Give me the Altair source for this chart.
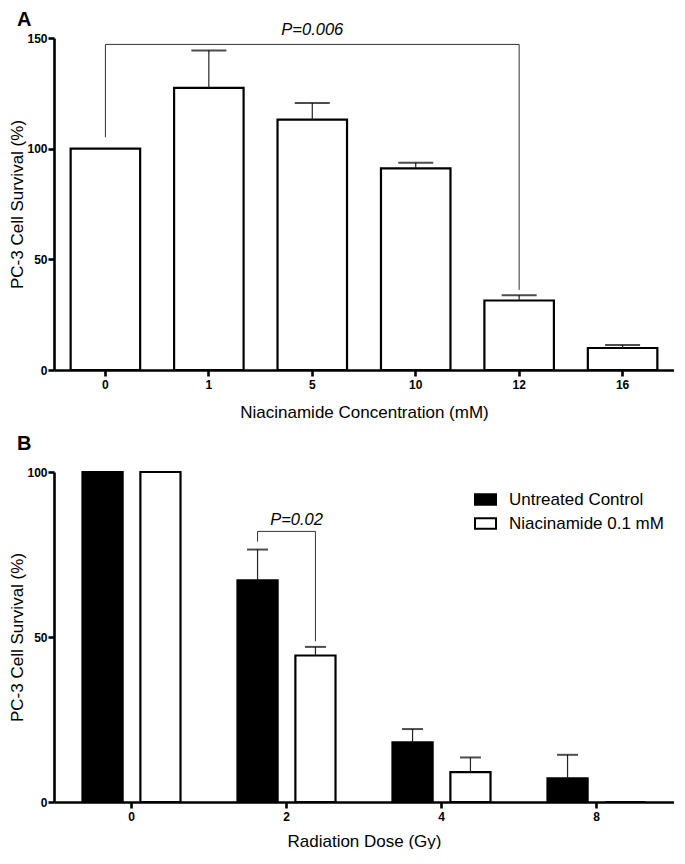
import altair as alt
import pandas as pd

# ---------------- Panel A data ----------------
conc = ["0", "1", "5", "10", "12", "16"]
surv_a = [100, 127.5, 113.1, 91.1, 31.4, 9.95]
sem_a = [0, 16.8, 7.5, 2.5, 2.4, 1.35]

bracket_a_x = ["0", "0", "12", "12"]
bracket_a_y = [105.2, 147.1, 147.1, 36.2]
p_a_label = ["P=0.006"]
p_a_x = ["5"]
p_a_y = [151.2]

# ---------------- Panel B data ----------------
dose = ["0", "2", "4", "8"]
groups = ["Untreated Control", "Niacinamide 0.1 mM"]
surv_ctrl = [100, 67.2, 18.1, 7.2]
sem_ctrl = [0, 9.3, 4.0, 7.1]
surv_nia = [100, 44.4, 9.05, 0]
sem_nia = [0, 2.6, 4.45, 0]

bracket_b_x = ["2", "2", "2", "2"]
bracket_b_group = ["Untreated Control", "Untreated Control", "Niacinamide 0.1 mM", "Niacinamide 0.1 mM"]
bracket_b_y = [78.9, 82.0, 82.0, 48.7]
p_b_label = ["P=0.02"]
p_b_x = ["2"]
p_b_y = [84.0]

FONT = "Liberation Sans"
W = 620

# ---------------- Panel A ----------------
dfa = pd.DataFrame({"conc": conc, "surv": surv_a, "sem": sem_a})
dfa["top"] = dfa["surv"] + dfa["sem"]
dfa_err = dfa[dfa["sem"] > 0]
dfa_br = pd.DataFrame({"conc": bracket_a_x, "surv": bracket_a_y, "i": list(range(len(bracket_a_x)))})
dfa_p = pd.DataFrame({"conc": p_a_x, "surv": p_a_y, "lab": p_a_label})


def xA():
    return alt.X("conc:N", sort=conc,
                 scale=alt.Scale(paddingInner=0.328, paddingOuter=0.161),
                 axis=alt.Axis(title="Niacinamide Concentration (mM)", labelAngle=0,
                               labelPadding=3, titlePadding=14))


def yA(field):
    return alt.Y(field, scale=alt.Scale(domain=[0, 150], nice=False),
                 axis=alt.Axis(title="PC-3 Cell Survival (%)", values=[0, 50, 100, 150],
                               labelPadding=1, titlePadding=0))


bars_a = alt.Chart(dfa).mark_bar(fill="white", stroke="black", strokeWidth=2.2).encode(
    x=xA(), y=yA("surv:Q"))
stems_a = alt.Chart(dfa_err).mark_rule(color="#222222", strokeWidth=1.2).encode(
    x=xA(), y=yA("surv:Q"), y2="top:Q")
caps_a = alt.Chart(dfa_err).mark_tick(color="black", thickness=2, size=35, orient="horizontal").encode(
    x=xA(), y=yA("top:Q"))
br_a = alt.Chart(dfa_br).mark_line(color="#333333", strokeWidth=1).encode(
    x=xA(), y=yA("surv:Q"), order="i:Q")
txt_a = alt.Chart(dfa_p).mark_text(font=FONT, fontSize=16.5, fontStyle="italic",
                                    baseline="alphabetic", align="center", color="black").encode(
    x=xA(), y=yA("surv:Q"), text="lab:N")

panel_a = alt.layer(bars_a, stems_a, caps_a, br_a, txt_a).properties(
    width=W, height=332,
    title=alt.Title("A", anchor="start", frame="bounds", fontSize=20, fontWeight="bold",
                    font=FONT, color="black", dx=8, offset=-8))

# ---------------- Panel B ----------------
rows = []
for d, v, s in zip(dose, surv_ctrl, sem_ctrl):
    rows.append({"dose": d, "group": groups[0], "surv": v, "sem": s})
for d, v, s in zip(dose, surv_nia, sem_nia):
    rows.append({"dose": d, "group": groups[1], "surv": v, "sem": s})
dfb = pd.DataFrame(rows)
dfb["top"] = dfb["surv"] + dfb["sem"]
dfb_err = dfb[dfb["sem"] > 0]
dfb_br = pd.DataFrame({"dose": bracket_b_x, "group": bracket_b_group, "surv": bracket_b_y,
                       "i": list(range(len(bracket_b_x)))})
dfb_p = pd.DataFrame({"dose": p_b_x, "surv": p_b_y, "lab": p_b_label})


def xB():
    return alt.X("dose:N", sort=dose, scale=alt.Scale(paddingInner=0, paddingOuter=0),
                 axis=alt.Axis(title="Radiation Dose (Gy)", labelAngle=0,
                               labelPadding=3, titlePadding=11))


def xoB():
    return alt.XOffset("group:N", sort=groups,
                       scale=alt.Scale(domain=groups, paddingInner=0.307, paddingOuter=0.492))


def yB(field):
    return alt.Y(field, scale=alt.Scale(domain=[0, 100], nice=False),
                 axis=alt.Axis(title="PC-3 Cell Survival (%)", values=[0, 50, 100],
                               labelPadding=1, titlePadding=0))


bars_b = alt.Chart(dfb).mark_bar(stroke="black", strokeWidth=2.2).encode(
    x=xB(), xOffset=xoB(), y=yB("surv:Q"),
    fill=alt.Fill("group:N", sort=groups,
                  scale=alt.Scale(domain=groups, range=["black", "white"]),
                  legend=alt.Legend(title=None, orient="none", legendX=420, legendY=450,
                                    symbolType="M-1,-0.5H1V0.5H-1Z", symbolSize=441,
                                    symbolStrokeColor="black", symbolStrokeWidth=2,
                                    labelFont=FONT, labelFontSize=17, labelColor="black",
                                    labelOffset=12, rowPadding=3)))
stems_b = alt.Chart(dfb_err).mark_rule(color="#222222", strokeWidth=1.2).encode(
    x=xB(), xOffset=xoB(), y=yB("surv:Q"), y2="top:Q")
caps_b = alt.Chart(dfb_err).mark_tick(color="black", thickness=2, size=21, orient="horizontal").encode(
    x=xB(), xOffset=xoB(), y=yB("top:Q"))
br_b = alt.Chart(dfb_br).mark_line(color="#333333", strokeWidth=1).encode(
    x=xB(), xOffset=xoB(), y=yB("surv:Q"), order="i:Q")
txt_b = alt.Chart(dfb_p).mark_text(font=FONT, fontSize=16.5, fontStyle="italic",
                                    baseline="alphabetic", align="center", color="black",
                                    dx=10).encode(
    x=xB(), y=yB("surv:Q"), text="lab:N")

panel_b = alt.layer(bars_b, stems_b, caps_b, br_b, txt_b).properties(
    width=W, height=330,
    title=alt.Title("B", anchor="start", frame="bounds", fontSize=20, fontWeight="bold",
                    font=FONT, color="black", dx=8, offset=12))

chart = alt.vconcat(panel_a, panel_b, spacing=14).properties(
    padding={"left": 0, "top": 2, "right": 0, "bottom": 0}
).configure_view(stroke=None).configure_axis(
    domainColor="black", domainWidth=2.6, tickColor="black", tickWidth=2.6, tickSize=6,
    labelFont=FONT, labelFontWeight="bold", labelFontSize=12, labelColor="black",
    titleFont=FONT, titleFontSize=17, titleFontWeight="normal", titleColor="black",
    grid=False
)

chart.save("out.html", embed_options={"renderer": "svg", "actions": False})
